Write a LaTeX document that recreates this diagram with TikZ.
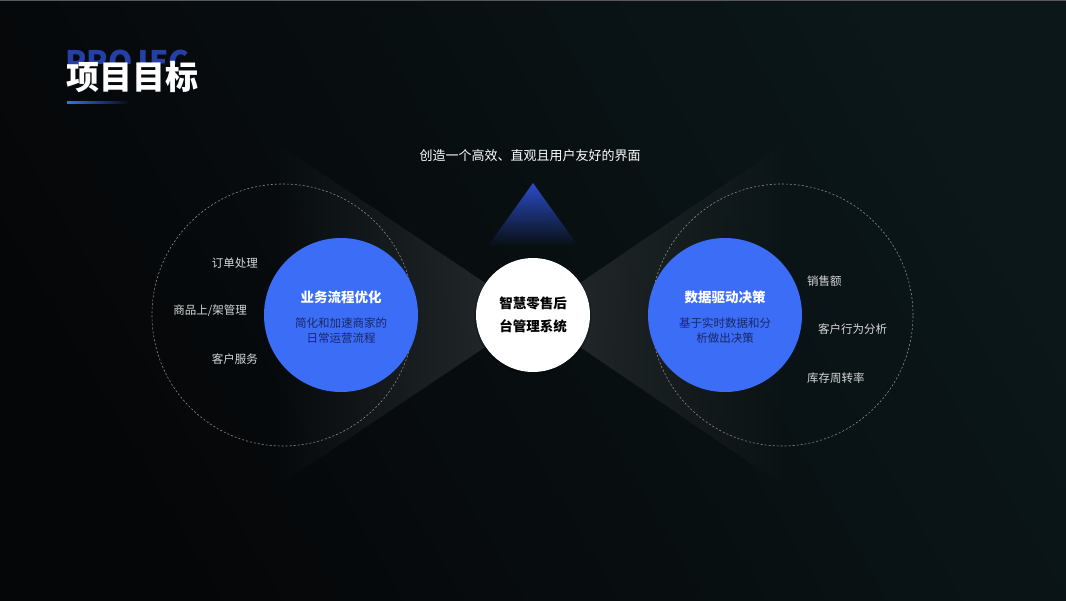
\documentclass[tikz,border=0pt]{standalone}
\usepackage{fontspec}
\setmainfont{Noto Sans CJK SC}
\usetikzlibrary{fadings,shadings}
\definecolor{bgA}{HTML}{050608}
\definecolor{bgD}{HTML}{0B1719}
\definecolor{circblue}{HTML}{3B6DF7}
\definecolor{navy}{HTML}{1A2862}
\definecolor{beam}{HTML}{2C3133}
\definecolor{tri}{HTML}{2C4CC8}
\definecolor{projblue}{HTML}{2440A8}
\definecolor{lbl}{HTML}{D8D8D8}
\definecolor{dash}{HTML}{8A8A8A}
\tikzfading[name=beamL, left color=transparent!100, right color=transparent!15]
\tikzfading[name=beamR, right color=transparent!100, left color=transparent!15]
\tikzfading[name=fadeS, top color=transparent!0, bottom color=transparent!100]
\tikzfading[name=fadeE, left color=transparent!0, right color=transparent!100]
\tikzset{
  lab/.style={text=lbl, font=\fontsize{11.5}{13}\selectfont, inner sep=0pt},
  bluecirc/.style={circle, fill=circblue, minimum size=154pt, inner sep=0pt},
  dashcirc/.style={circle, draw=dash, dashed, dash pattern=on 2pt off 2pt, line width=0.6pt, minimum size=262pt, inner sep=0pt},
  ctitle/.style={text=white, font=\bfseries\fontsize{13.5}{16}\selectfont, inner sep=0pt},
  csub/.style={text=navy, font=\fontsize{11.5}{15}\selectfont, align=center, inner sep=0pt},
}
\begin{document}
\begin{tikzpicture}[x=1pt,y=-1pt]
\useasboundingbox (0,0) rectangle (1066,600);
% background
\shade[left color=bgA, right color=bgD, shading angle=120] (0,0) rectangle (1066,600);
\fill[gray!70!black] (0,0) rectangle (1066,1.2);
% beams
\coordinate (mid) at (533,315);
\fill[beam, path fading=beamL] (mid) -- (272,140) -- (272,490) -- cycle;
\fill[beam, path fading=beamR] (mid) -- (790,140) -- (790,490) -- cycle;
% triangle
\fill[tri, path fading=fadeS] (533,183) -- (578,246) -- (488,246) -- cycle;
% dashed circles
\node[dashcirc] (dl) at (283,315) {};
\node[dashcirc] (dr) at (782,315) {};
% blue circles
\node[bluecirc] (bl) at (341,315) {};
\node[bluecirc] (br) at (725,315) {};
% center circle
\node[circle, fill=black, opacity=0.2, minimum size=117pt] (shadow) at (533,316) {};
\node[circle, fill=white, minimum size=114pt, inner sep=0pt, align=center,
      font=\bfseries\fontsize{13.5}{23}\selectfont, text=black] (c) at (533,315) {智慧零售后\\台管理系统};
% circle texts
\node[ctitle] (blt) at (341,297) {业务流程优化};
\node[csub] (bls) at (341,331) {简化和加速商家的\\日常运营流程};
\node[ctitle] (brt) at (725,297) {数据驱动决策};
\node[csub] (brs) at (725,331) {基于实时数据和分\\析做出决策};
% left labels
\node[lab, anchor=east] (l1) at (258,263) {订单处理};
\node[lab, anchor=east] (l2) at (247,311) {商品上/架管理};
\node[lab, anchor=east] (l3) at (258,359) {客户服务};
% right labels
\node[lab, anchor=west] (r1) at (807,281) {销售额};
\node[lab, anchor=west] (r2) at (818,329) {客户行为分析};
\node[lab, anchor=west] (r3) at (807,378) {库存周转率};
% subtitle
\node[text=white, font=\fontsize{13}{15}\selectfont, inner sep=0pt] (sub) at (530,156) {创造一个高效、直观且用户友好的界面};
% title block
\begin{scope}
\clip (60,30) rectangle (220,63);
\node[anchor=west, text=projblue, font=\bfseries\fontsize{31}{31}\selectfont, inner sep=0pt] (proj) at (65,62) {PROJEC};
\end{scope}
\node[anchor=west, text=white, font=\bfseries\fontsize{33}{36}\selectfont, inner sep=0pt] (title) at (66,77) {项目目标};
\fill[circblue, path fading=fadeE] (67,101) rectangle (130,104);
\end{tikzpicture}
\end{document}
